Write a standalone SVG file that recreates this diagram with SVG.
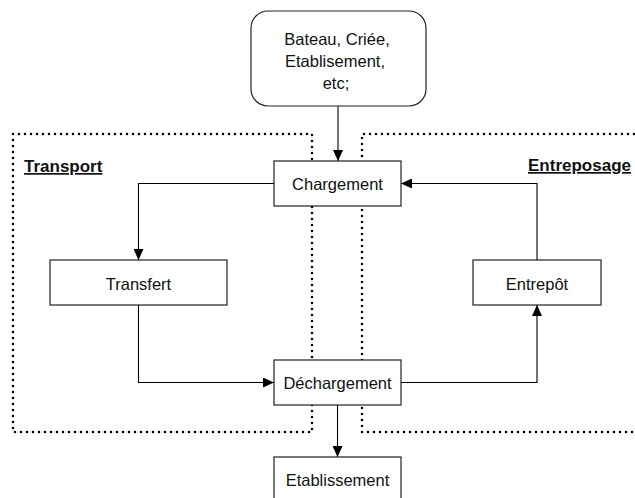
<svg xmlns="http://www.w3.org/2000/svg" width="635" height="498" viewBox="0 0 635 498">
<defs>
<marker id="arr" viewBox="0 0 11 10" refX="11" refY="5" markerWidth="11" markerHeight="10" markerUnits="userSpaceOnUse" orient="auto">
<path d="M0,0 L11,5 L0,10 Z" fill="#000"/>
</marker>
<style>
.box{fill:#fff;stroke:#222;stroke-width:1.2}
.lbl{font-family:"Liberation Sans",Arial,sans-serif;font-size:16.5px;fill:#111;text-anchor:middle}
.ttl{font-family:"Liberation Sans",Arial,sans-serif;font-size:17px;font-weight:bold;fill:#111;text-decoration:underline}
.dot{fill:none;stroke:#000;stroke-width:2.6;stroke-linecap:round;stroke-dasharray:0 6}
.con{fill:none;stroke:#000;stroke-width:1.1}
</style>
</defs>
<rect width="635" height="498" fill="#fff"/>
<g id="regions">
<path class="dot" d="M13,134 H312 V432 H13 Z"/>
<path class="dot" d="M640,134 H362 V432 H640"/>
<text class="ttl" x="24" y="172">Transport</text>
<text class="ttl" x="528" y="171">Entreposage</text>
</g>
<g id="connectors">
<path class="con" d="M338,106 V161" marker-end="url(#arr)"/>
<path class="con" d="M274,183.5 H138.5 V260" marker-end="url(#arr)"/>
<path class="con" d="M138.5,305 V382.5 H274" marker-end="url(#arr)"/>
<path class="con" d="M401,382.5 H537 V305" marker-end="url(#arr)"/>
<path class="con" d="M537,260 V183.5 H401" marker-end="url(#arr)"/>
<path class="con" d="M337.5,405 V457" marker-end="url(#arr)"/>
</g>
<g id="source">
<rect class="box" x="251" y="11" width="175" height="95" rx="17" ry="17"/>
<text class="lbl" x="337" y="45">Bateau, Criée,</text>
<text class="lbl" x="335" y="67">Etablisement,</text>
<text class="lbl" x="336" y="89">etc;</text>
</g>
<g id="chargement">
<rect class="box" x="274" y="161" width="127" height="45"/>
<text class="lbl" x="337.5" y="189.5">Chargement</text>
</g>
<g id="transfert">
<rect class="box" x="50" y="260" width="177" height="45"/>
<text class="lbl" x="138.5" y="290">Transfert</text>
</g>
<g id="entrepot">
<rect class="box" x="473" y="260" width="128" height="45"/>
<text class="lbl" x="537" y="290">Entrepôt</text>
</g>
<g id="dechargement">
<rect class="box" x="274" y="360" width="127" height="45"/>
<text class="lbl" x="337.5" y="388.5">Déchargement</text>
</g>
<g id="etablissement">
<rect class="box" x="274" y="457" width="127" height="45"/>
<text class="lbl" x="337.5" y="485.5">Etablissement</text>
</g>
</svg>
